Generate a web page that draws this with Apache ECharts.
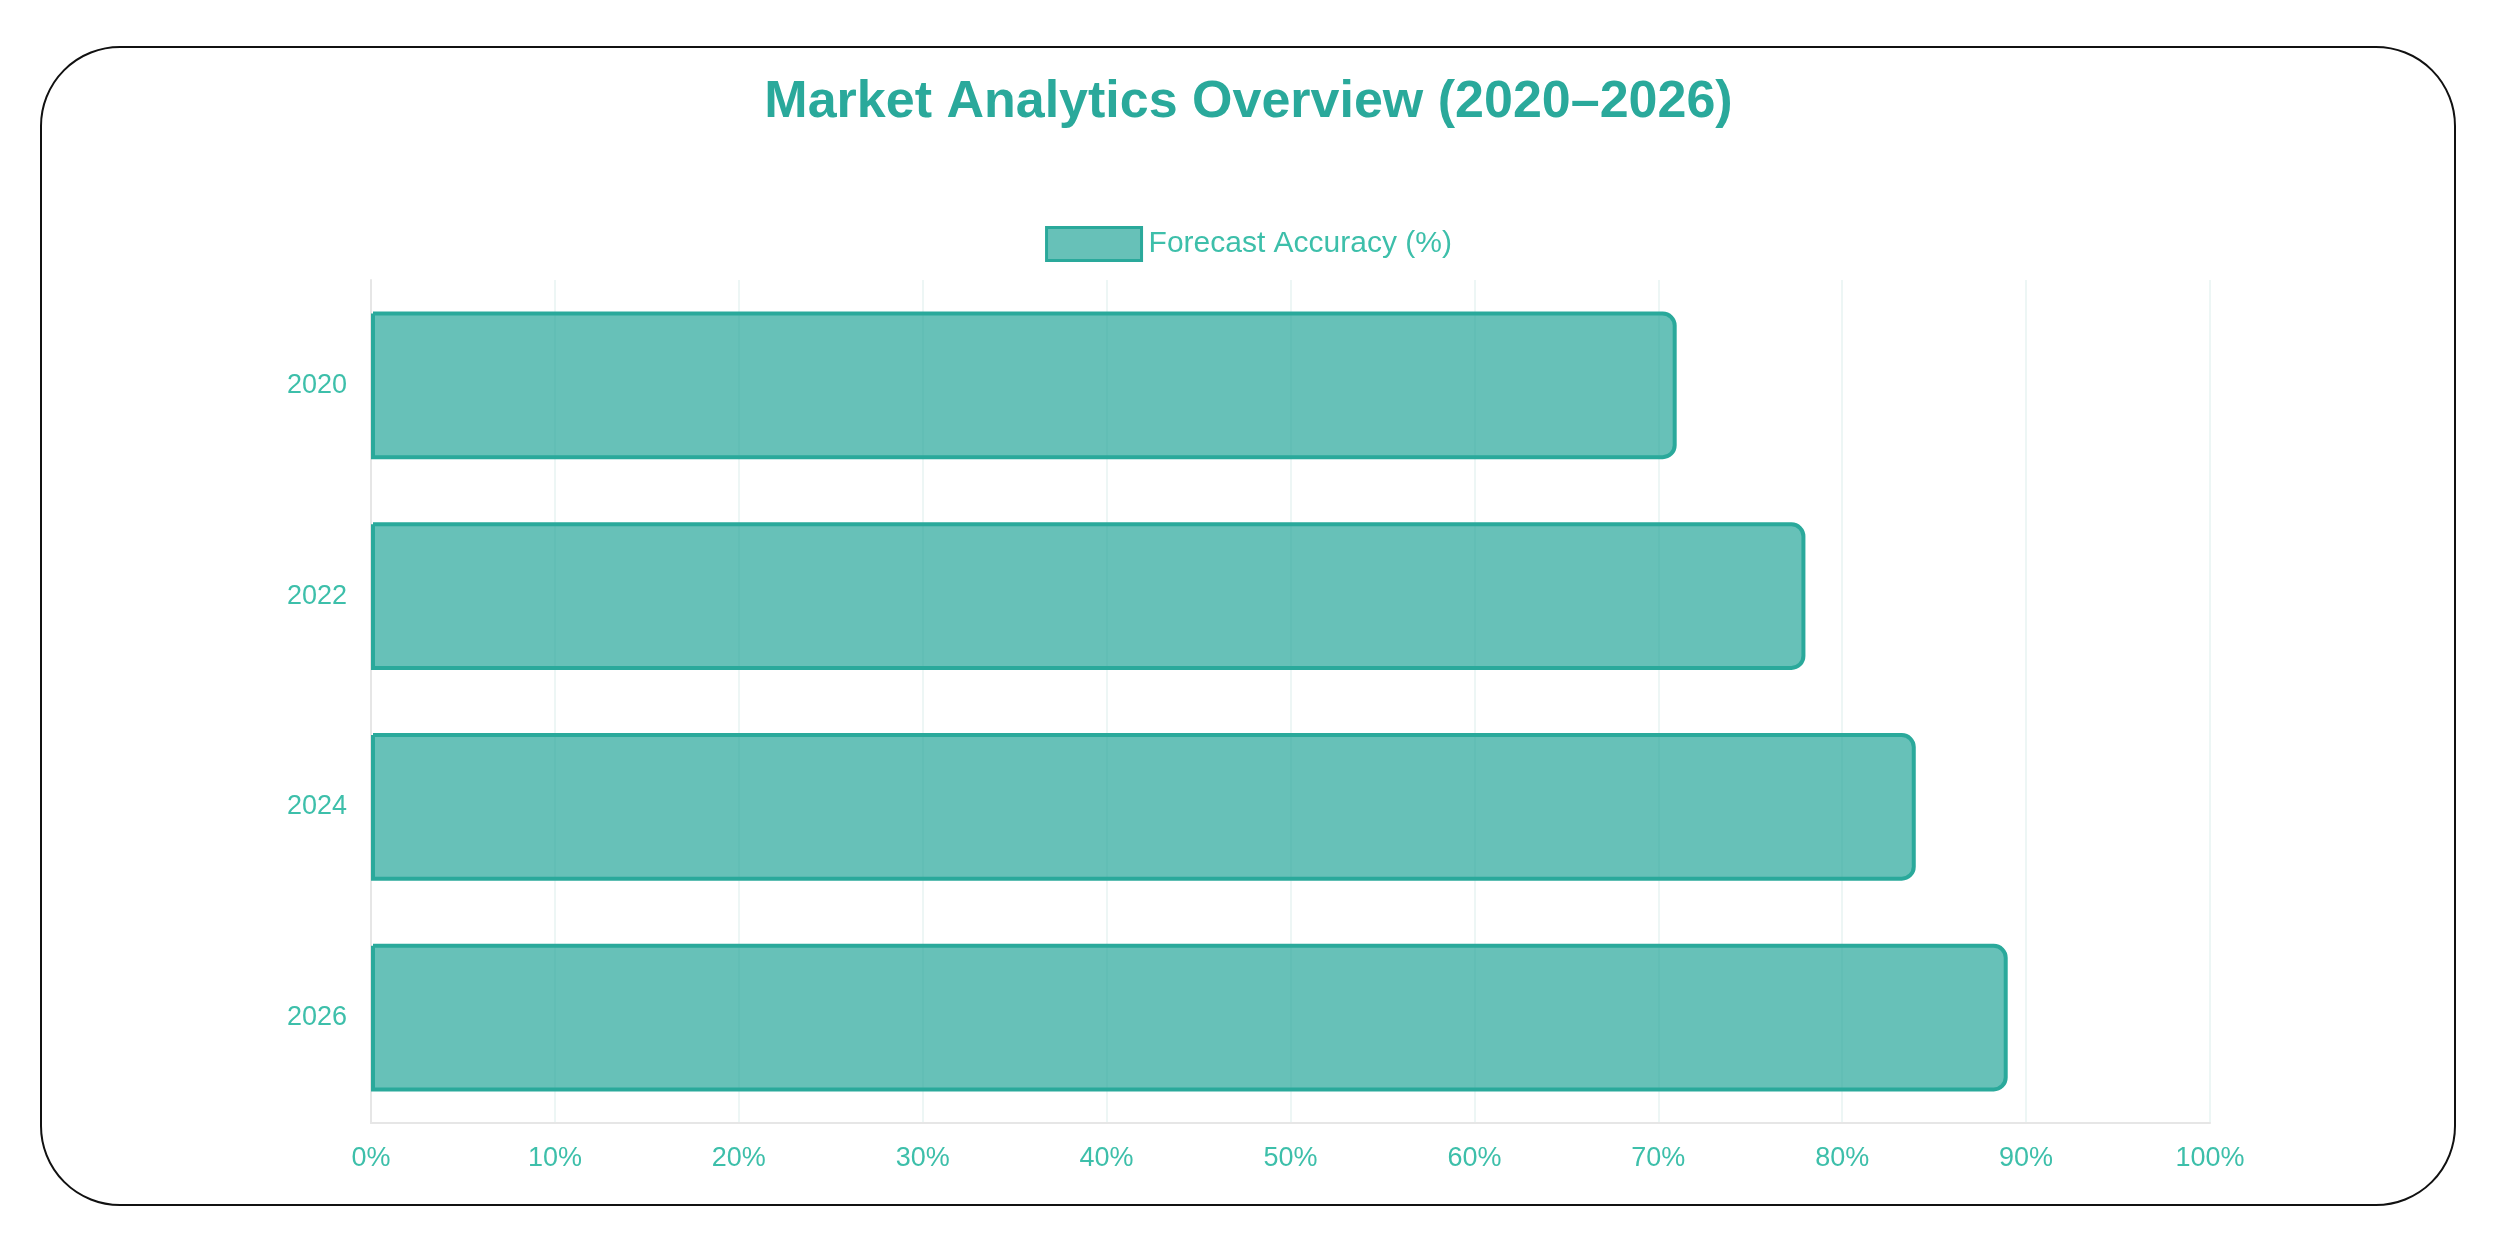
<!DOCTYPE html>
<html><head><meta charset="utf-8">
<script src="https://cdn.jsdelivr.net/npm/echarts@6/dist/echarts.min.js"></script>
<style>
html,body{margin:0;padding:0;background:#fff;width:2497px;height:1240px;overflow:hidden}
#card{position:absolute;left:40px;top:46px;width:2416px;height:1160px;border:2px solid #111;border-radius:80px;box-sizing:border-box}
#c{position:absolute;left:0;top:0;width:2497px;height:1240px}
</style></head><body>
<div id="card"></div>
<div id="c"></div>
<script>
const categories = ['2020','2022','2024','2026'];
const accuracy = [71, 78, 84, 89];
const seriesName = 'Forecast Accuracy (%)';
const titleText = 'Market Analytics Overview (2020\u20132026)';
const teal = '#2aa99b';
const chart = echarts.init(document.getElementById('c'));
chart.setOption({
  animation:false,
  title:{text:titleText,left:'center',top:72,textStyle:{fontFamily:'Liberation Sans, Arial',fontSize:52,fontWeight:'bold',color:teal}},
  legend:{top:221,left:'center',itemWidth:95,itemHeight:33,itemGap:18,icon:'rect',
    textStyle:{fontFamily:'Liberation Sans, Arial',fontSize:30,color:'#3dbfaa',padding:[0,0,0,2]},
    data:[{name:seriesName,itemStyle:{color:'rgba(38,166,154,0.7)',borderColor:teal,borderWidth:3}}]},
  grid:{left:371,right:287,top:280,bottom:117,containLabel:false},
  xAxis:{type:'value',min:0,max:100,interval:10,
    axisLabel:{formatter:'{value}%',color:'#3dbfaa',fontSize:27,fontFamily:'Liberation Sans, Arial',margin:22},
    axisLine:{show:true,lineStyle:{color:'#e6e6e6',width:2}},axisTick:{show:false},
    splitLine:{show:true,lineStyle:{color:'#edf6f5',width:2}}},
  yAxis:{type:'category',data:categories,inverse:true,
    axisLabel:{color:'#3dbfaa',fontSize:27,fontFamily:'Liberation Sans, Arial',margin:24},
    axisLine:{show:true,lineStyle:{color:'#e6e6e6',width:2}},axisTick:{show:false},
    splitLine:{show:false}},
  series:[{name:seriesName,type:'bar',data:accuracy,barCategoryGap:'30%',
    itemStyle:{color:'rgba(38,166,154,0.7)',borderColor:teal,borderWidth:4,borderRadius:[0,12,12,0]}}]
});
</script></body></html>
